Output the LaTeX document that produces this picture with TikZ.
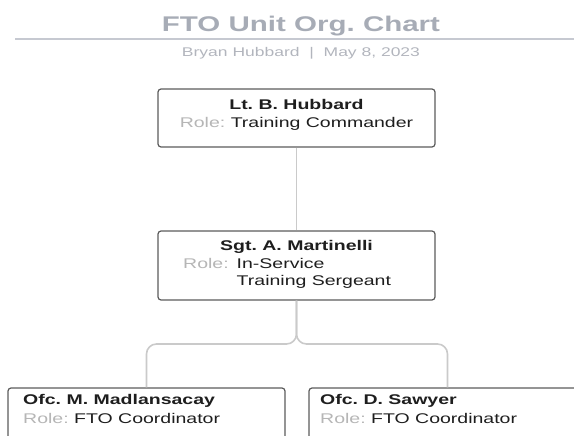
\documentclass[tikz,border=0pt]{standalone}
\usepackage{graphicx}
\usepackage{fontspec}
\setmainfont{Liberation Sans}
\frenchspacing
\definecolor{titlegray}{HTML}{A7ACB6}
\definecolor{rulegray}{HTML}{C6C9D1}
\definecolor{subgray}{HTML}{B2B5BD}
\definecolor{rolegray}{HTML}{B6B6B6}
\definecolor{linkgray}{HTML}{CACACA}
\definecolor{boxline}{HTML}{5C5C5C}
\definecolor{ink}{HTML}{1E1E1E}
\newcommand{\rolelbl}{\textcolor{rolegray}{Role:}}
\newcommand{\squash}[1]{\scalebox{1}[0.72]{#1}}
\begin{document}
\begin{tikzpicture}[x=1pt,y=-1pt,
  card/.style={draw=boxline, line width=1.2pt, rounded corners=3pt, minimum width=277pt, inner sep=0pt, fill=white},
  link/.style={draw=linkgray, line width=1.6pt, rounded corners=10pt},
  boxtxt/.style={inner sep=0pt, text=ink, font=\fontsize{19.5}{24.5}\selectfont},
  nametxt/.style={boxtxt, font=\fontsize{19.5}{24.5}\selectfont\bfseries}]
\useasboundingbox (0,0) rectangle (574,436);
\clip (0,0) rectangle (574,436);

% header
\node[inner sep=0pt, text=titlegray, font=\fontsize{29.5}{32}\selectfont\bfseries, anchor=base] (title) at (301,32) {\squash{FTO Unit Org. Chart}};
\coordinate (ruleL) at (15,39.5);
\coordinate (ruleR) at (574,39.5);
\draw[rulegray, line width=2pt] (ruleL) -- (ruleR);
\node[inner sep=0pt, text=subgray, font=\fontsize{17.5}{19}\selectfont, anchor=base] (sub) at (301,57) {\squash{Bryan Hubbard \ | \ May 8, 2023}};

% boxes
\node[card, minimum height=58pt] (b1) at (296.5,118) {};
\node[card, minimum height=69pt] (b2) at (296.5,265.5) {};
\node[card, minimum height=70pt] (b3) at (146.5,423) {};
\node[card, minimum height=70pt] (b4) at (447.5,423) {};

% connectors
\coordinate (split) at (296.5,344);
\draw[link] (b1.south) -- (b2.north);
\draw[link] (b2.south) -- (split) -| (b3.north);
\draw[link] (b2.south) -- (split) -| (b4.north);

% texts
\node[nametxt, anchor=base] (n1) at (296.5,110) {\squash{Lt. B. Hubbard}};
\node[boxtxt, anchor=base] (r1) at (296.5,128) {\squash{\rolelbl{} Training Commander}};

\node[nametxt, anchor=base] (n2) at (296.5,250.5) {\squash{Sgt. A. Martinelli}};
\node[boxtxt, anchor=base west] (r2) at (183,268) {\squash{\begin{tabular}[t]{@{}l@{\hspace{8pt}}l@{}}\rolelbl & In-Service\\ & Training Sergeant\end{tabular}}};

\node[nametxt, anchor=base west] (n3) at (23,404) {\squash{Ofc. M. Madlansacay}};
\node[boxtxt, anchor=base west] (r3) at (23,423) {\squash{\rolelbl{} FTO Coordinator}};

\node[nametxt, anchor=base west] (n4) at (320,404) {\squash{Ofc. D. Sawyer}};
\node[boxtxt, anchor=base west] (r4) at (320,423) {\squash{\rolelbl{} FTO Coordinator}};
\end{tikzpicture}
\end{document}
